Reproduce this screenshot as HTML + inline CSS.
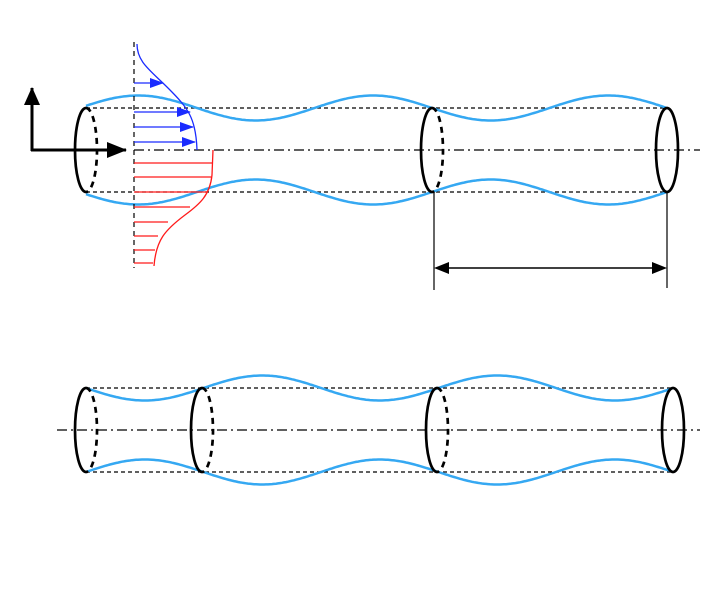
<!DOCTYPE html>
<html><head><meta charset="utf-8"><style>
html,body{margin:0;padding:0;background:#fff;}
svg{display:block;}
</style></head><body>
<svg id="fig" width="710" height="591" viewBox="0 0 710 591" xmlns="http://www.w3.org/2000/svg">
<defs>
<marker id="ahb" markerWidth="20" markerHeight="16" refX="19" refY="8" orient="auto" markerUnits="userSpaceOnUse"><path d="M0,0 L20,8 L0,16 z" fill="#000"/></marker>
<marker id="ahs" markerWidth="18" markerHeight="16" refX="17" refY="8" orient="auto" markerUnits="userSpaceOnUse"><path d="M0,0 L18,8 L0,16 z" fill="#000"/></marker>
<marker id="ahblue" markerWidth="14" markerHeight="10" refX="13" refY="5" orient="auto" markerUnits="userSpaceOnUse"><path d="M0,0 L14,5 L0,10 z" fill="#1a2bff"/></marker>
</defs>
<g id="g"></g>
</svg>
<script>
// profile data
const blueArrowY = [83, 112, 127, 142];
const blueArrowX = [163, 190, 193, 195];
const redLineY = [163, 177, 192, 207, 222, 236, 250, 263];
const redLineX = [212, 211, 208, 190, 168, 158, 155, 153];
const NS = 'http://www.w3.org/2000/svg';
const g = document.getElementById('g');
function el(tag, attrs, name){
  const e = document.createElementNS(NS, tag);
  for (const k in attrs) e.setAttribute(k, attrs[k]);
  
  
  g.appendChild(e);
  return e;
}
function wave(x0, x1, yBase, amp, period, phaseX, sign){
  let d = '';
  for (let x = x0; x <= x1 + 0.01; x += 2){
    const y = yBase + sign * amp * Math.sin(2*Math.PI*(x - phaseX)/period);
    d += (d ? 'L' : 'M') + x.toFixed(1) + ',' + y.toFixed(1);
  }
  return d;
}
const blue = '#35a8f2';
function tube(top, bot, xs, solidEnd, phaseX, prefix){
  const cy = (top+bot)/2, ry = (bot-top)/2;
  el('line',{x1:xs[0],y1:top,x2:xs[xs.length-1],y2:top,stroke:'#000','stroke-width':1.2,'stroke-dasharray':'4,3'}, prefix+'-top-dashed');
  el('line',{x1:xs[0],y1:bot,x2:xs[xs.length-1],y2:bot,stroke:'#000','stroke-width':1.2,'stroke-dasharray':'4,3'}, prefix+'-bottom-dashed');
  el('path',{d:wave(xs[0],xs[xs.length-1],top,12.5,235,phaseX,1),fill:'none',stroke:blue,'stroke-width':2.5}, prefix+'-top-wall');
  el('path',{d:wave(xs[0],xs[xs.length-1],bot,12.5,235,phaseX,-1),fill:'none',stroke:blue,'stroke-width':2.5}, prefix+'-bottom-wall');
  xs.forEach((x,i)=>{
    if (i === xs.length-1 && solidEnd){
      el('ellipse',{cx:x,cy:cy,rx:11,ry:ry,fill:'none',stroke:'#000','stroke-width':2.7}, prefix+'-end-ellipse');
    } else {
      el('path',{d:`M${x},${top} A11,${ry} 0 0 0 ${x},${bot}`,fill:'none',stroke:'#000','stroke-width':2.7}, prefix+'-section-front-'+i);
      el('path',{d:`M${x},${top} A11,${ry} 0 0 1 ${x},${bot}`,fill:'none',stroke:'#000','stroke-width':2.7,'stroke-dasharray':'6,5'}, prefix+'-section-back-'+i);
    }
  });
}
// top figure
el('line',{x1:134,y1:150,x2:700,y2:150,stroke:'#000','stroke-width':1.2,'stroke-dasharray':'10,4,2,4'},'top-centerline');
tube(108,192,[86,432,667],true,432,'top-tube');
el('line',{x1:134,y1:42,x2:134,y2:268,stroke:'#000','stroke-width':1.2,'stroke-dasharray':'5,4'},'profile-axis');
el('path',{d:'M137,44 C137,62 150,70 168,88 C188,108 196,118 197,150',fill:'none',stroke:'#1a2bff','stroke-width':1.3},'blue-velocity-profile');
blueArrowY.forEach((y,i)=>{
  el('line',{x1:134,y1:y,x2:blueArrowX[i],y2:y,stroke:'#1a2bff','stroke-width':1.3,'marker-end':'url(#ahblue)'},'blue-velocity-arrow');
});
el('path',{d:'M213,150 L212,175 C210,195 200,204 185,215 C165,230 156,240 154,266',fill:'none',stroke:'#ff1a1a','stroke-width':1.3},'red-profile-curve');
redLineY.forEach((y,i)=>{
  el('line',{x1:134,y1:y,x2:redLineX[i],y2:y,stroke:'#ff1a1a','stroke-width':1.3},'red-profile-line');
});
// coordinate axes
el('line',{x1:32,y1:151,x2:32,y2:88,stroke:'#000','stroke-width':3,'marker-end':'url(#ahs)'},'y-axis-arrow');
el('line',{x1:31,y1:150,x2:126,y2:150,stroke:'#000','stroke-width':3,'marker-end':'url(#ahb)'},'x-axis-arrow');
// dimension
el('line',{x1:434,y1:192,x2:434,y2:290,stroke:'#000','stroke-width':1.2},'dimension-left-line');
el('line',{x1:667,y1:192,x2:667,y2:288,stroke:'#000','stroke-width':1.2},'dimension-right-line');
el('line',{x1:448,y1:268,x2:653,y2:268,stroke:'#000','stroke-width':1.5},'dimension-line');
el('path',{d:'M434,268 L449,262 L449,274 z',fill:'#000'},'dimension-arrow-left');
el('path',{d:'M667,268 L652,262 L652,274 z',fill:'#000'},'dimension-arrow-right');
// bottom figure
el('line',{x1:57,y1:430,x2:700,y2:430,stroke:'#000','stroke-width':1.2,'stroke-dasharray':'10,4,2,4'},'bottom-centerline');
tube(388,472,[86,202,437,673],true,86,'bottom-tube');
</script>
</body></html>
